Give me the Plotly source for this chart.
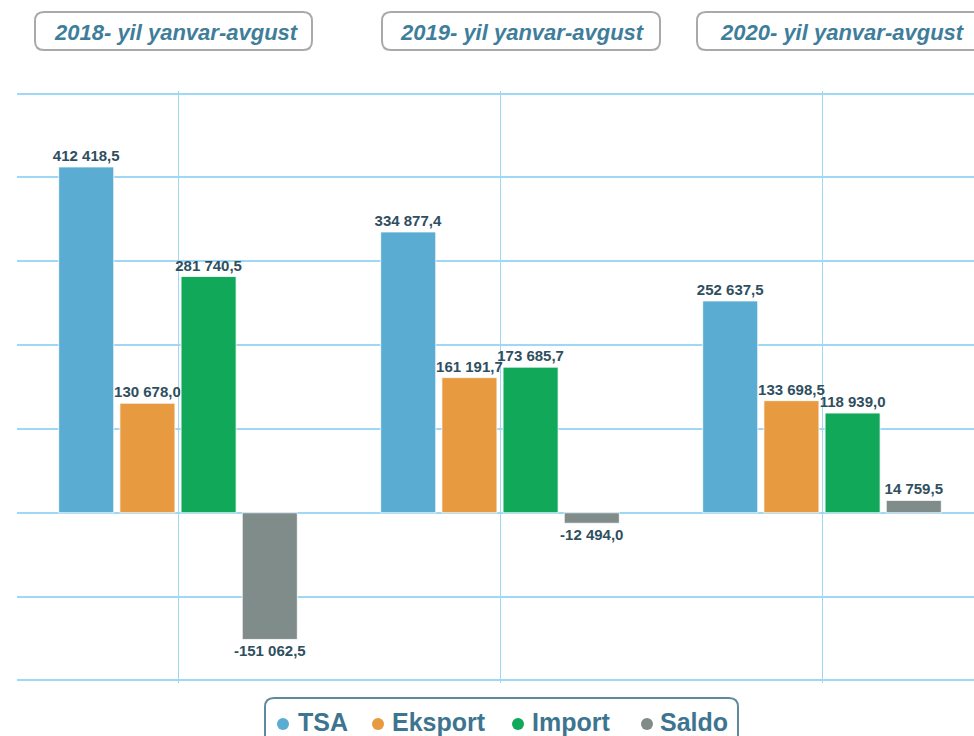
import plotly.graph_objects as go

periods = ["2018- yil yanvar-avgust", "2019- yil yanvar-avgust", "2020- yil yanvar-avgust"]
series_names = ["TSA", "Eksport", "Import", "Saldo"]
tsa = [412418.5, 334877.4, 252637.5]
eksport = [130678.0, 161191.7, 133698.5]
imports = [281740.5, 173685.7, 118939.0]
saldo = [-151062.5, -12494.0, 14759.5]
colors = ["#5BACD3", "#E89A41", "#12A85A", "#7F8C8A"]

W, H = 974, 736
L, R, T, B = 17, 0, 91, 53
PW, PH = W - L - R, H - T - B
FONT = "Liberation Sans, Arial, sans-serif"


def fmt(v):
    return f"{v:,.1f}".replace(",", " ").replace(".", ",")


def px(x):
    return (x - L) / PW


def py(y):
    return (H - B - y) / PH


xs = [0, 1, 2]
fig = go.Figure()
for name, vals, col in zip(series_names, [tsa, eksport, imports, saldo], colors):
    fig.add_trace(go.Bar(
        x=xs, y=vals, name=name,
        marker=dict(color=col, line=dict(color="rgba(255,255,255,0.8)", width=1)),
        text=[f"<b>{fmt(v)}</b>" for v in vals], textposition="outside", cliponaxis=False,
        constraintext="none",
        textfont=dict(family=FONT, size=15, color="#2F4F5F"),
        showlegend=False,
    ))

fig.update_layout(
    width=W, height=H,
    margin=dict(l=L, r=R, t=T, b=B),
    paper_bgcolor="white", plot_bgcolor="white",
    barmode="group", bargap=0.24, bargroupgap=0.1,
    font=dict(family=FONT, color="#2F4F5F"),
    xaxis=dict(range=[-0.5, -0.5 + PW / 322], showticklabels=False, showgrid=True,
               gridcolor="#9ED8F5", gridwidth=1, tickvals=xs, zeroline=False, showline=False),
    yaxis=dict(range=[-203000, 503000], showticklabels=False, tick0=0, dtick=100000,
               showgrid=True, gridcolor="#9ED8F5", gridwidth=1.5,
               zeroline=True, zerolinecolor="#9ED8F5", zerolinewidth=1.5, showline=False),
)


def rr_paper(x0, y0, x1, y1, r=9):
    # rounded rectangle defined in pixels, emitted in paper coordinates
    pts = []
    segs = [("M", x0 + r, y0), ("L", x1 - r, y0), ("Q", x1, y0, x1, y0 + r),
            ("L", x1, y1 - r), ("Q", x1, y1, x1 - r, y1), ("L", x0 + r, y1),
            ("Q", x0, y1, x0, y1 - r), ("L", x0, y0 + r), ("Q", x0, y0, x0 + r, y0)]
    for s in segs:
        if s[0] == "Q":
            pts.append(f"Q {px(s[1])},{py(s[2])} {px(s[3])},{py(s[4])}")
        else:
            pts.append(f"{s[0]} {px(s[1])},{py(s[2])}")
    return " ".join(pts) + " Z"


header_boxes = [(35, 12, 312, 50), (382, 12, 660, 50), (697, 12, 985, 50)]
shapes = [dict(type="path", xref="paper", yref="paper", path=rr_paper(*b),
               line=dict(color="#A9A9A9", width=2), fillcolor="rgba(0,0,0,0)")
          for b in header_boxes]
shapes.append(dict(type="path", xref="paper", yref="paper", path=rr_paper(265, 698, 738, 745),
                   line=dict(color="#5E8A9C", width=2), fillcolor="rgba(0,0,0,0)"))

annotations = []
header_centers = [176, 522, 842]
for title, cx in zip(periods, header_centers):
    annotations.append(dict(xref="paper", yref="paper", x=px(cx), y=py(32),
                            text=f"<b><i>{title}</i></b>", showarrow=False,
                            font=dict(size=22, color="#3F7E9A", family=FONT),
                            xanchor="center", yanchor="middle"))

legend_items = [(283, 296), (378, 390), (518, 530), (647, 658)]
for name, col, (dx, tx) in zip(series_names, colors, legend_items):
    shapes.append(dict(type="circle", xref="paper", yref="paper",
                       x0=px(dx - 6), x1=px(dx + 6), y0=py(730), y1=py(718),
                       fillcolor=col, line=dict(width=0)))
    annotations.append(dict(xref="paper", yref="paper", x=px(tx), y=py(722),
                            text=f"<b>{name}</b>", showarrow=False, xanchor="left", yanchor="middle",
                            font=dict(size=25, color="#3D7590", family=FONT)))

fig.update_layout(shapes=shapes, annotations=annotations)
fig.write_html("out.html")
